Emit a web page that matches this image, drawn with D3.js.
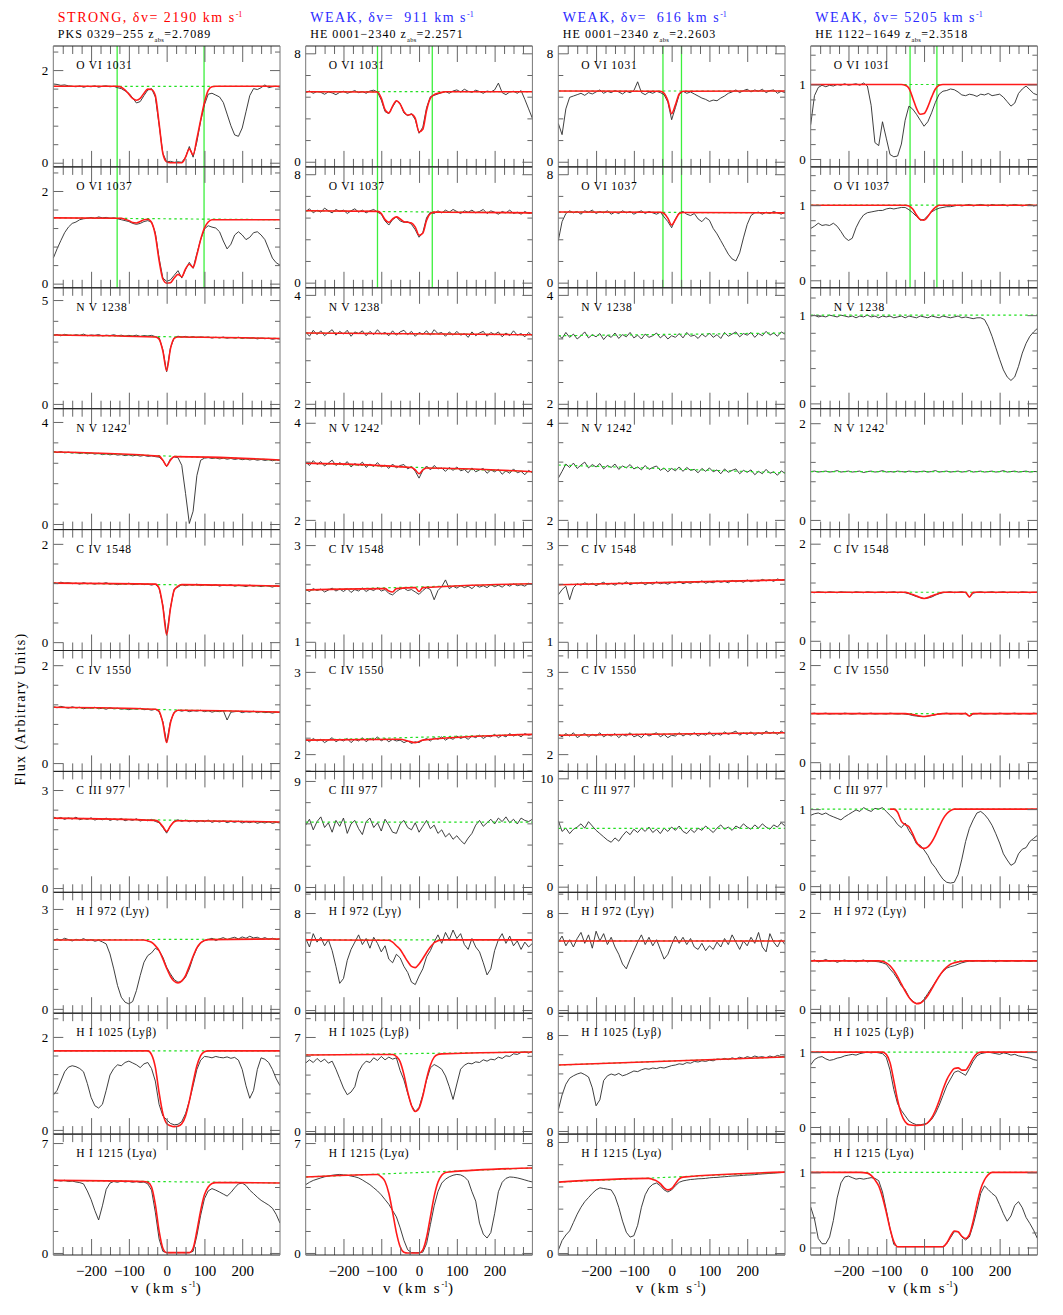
<!DOCTYPE html>
<html><head><meta charset="utf-8">
<script src="https://cdn.jsdelivr.net/npm/d3@7"></script>
<style>
body{margin:0;background:#fff}
svg{display:block}
text{font-family:"Liberation Serif","DejaVu Serif",serif;white-space:pre}
</style>
</head><body>
<svg id="c" width="1063" height="1315"></svg>
<script>
// ---------------- DATA ----------------
const headerTitles = ["STRONG, \u03b4v= 2190 km s", "WEAK, \u03b4v=  911 km s", "WEAK, \u03b4v=  616 km s", "WEAK, \u03b4v= 5205 km s"];
const headerColors = ["#ff0000", "#2b2bff", "#2b2bff", "#2b2bff"];
const sightlines = ["PKS 0329\u2212255 z", "HE 0001\u22122340 z", "HE 0001\u22122340 z", "HE 1122\u22121649 z"];
const zabs = ["=2.7089", "=2.2571", "=2.2603", "=2.3518"];
const ions = ["O VI 1031", "O VI 1037", "N V 1238", "N V 1242", "C IV 1548", "C IV 1550", "C III 977",
  "H I 972 (Ly\u03b3)", "H I 1025 (Ly\u03b2)", "H I 1215 (Ly\u03b1)"];
const velocityLabels = [-200, -100, 0, 100, 200];
const integrationLimits = [[-131, 99], [-110, 35], [-23, 26], [-37, 34]];

// y-axis ranges [min,max] per panel and labelled values [bottom, top]
const yRangeC1 = [[-0.09,2.52],[-0.09,2.52],[-0.23,5.59],[-0.22,4.52],[-0.17,2.29],[-0.17,2.30],[-0.13,3.57],[-0.13,3.50],[-0.09,2.51],[-0.13,7.57]];
const yRangeC2 = [[-0.38,8.54],[-0.38,8.54],[1.91,4.13],[1.80,4.29],[0.82,3.32],[1.79,3.26],[-0.45,9.81],[-0.26,9.71],[-0.23,8.77],[-0.13,7.57]];
const yRangeC3 = [[-0.38,8.54],[-0.38,8.54],[1.91,4.13],[1.80,4.29],[0.82,3.32],[1.79,3.26],[-0.52,10.64],[-0.26,9.71],[-0.26,9.82],[-0.14,8.57]];
const yRangeC4 = [[-0.106,1.517],[-0.10,1.51],[-0.06,1.31],[-0.20,2.30],[-0.20,2.29],[-0.19,2.30],[-0.08,1.49],[-0.09,2.43],[-0.095,1.52],[-0.10,1.51]];
const yLabelsC1 = [[0,2],[0,2],[0,5],[0,4],[0,2],[0,2],[0,3],[0,3],[0,2],[0,7]];
const yLabelsC2 = [[0,8],[0,8],[2,4],[2,4],[1,3],[2,3],[0,9],[0,8],[0,7],[0,7]];
const yLabelsC3 = [[0,8],[0,8],[2,4],[2,4],[1,3],[2,3],[0,10],[0,8],[0,8],[0,8]];
const yLabelsC4 = [[0,1],[0,1],[0,1],[0,2],[0,2],[0,2],[0,1],[0,2],[0,1],[0,1]];

// continuum level [at -300, at +300]
const contC1 = [[1.65,1.65],[1.42,1.38],[3.32,3.15],[2.82,2.51],[1.2,1.14],[1.14,1.04],[2.14,2.02],[2.07,2.1],[1.7,1.7],[4.62,4.46]];
const contC2 = [[5.17,5.17],[5.3,5.15],[3.3,3.27],[3.17,2.99],[2.07,2.2],[2.17,2.24],[5.5,5.5],[5.79,5.79],[5.66,5.88],[4.84,5.41]];
const contC3 = [[5.22,5.22],[5.21,5.15],[3.25,3.3],[3.13,2.97],[2.18,2.28],[2.23,2.26],[5.39,5.39],[5.7,5.7],[5.5,6.17],[5.11,5.83]];
const contC4 = [[1,1],[1,1],[1,1],[1,1],[1,1],[1,1],[1,1],[1,1],[1,1],[1,1]];

// observed flux, sampled every 10 km/s from -300 to +300 (61 values)
const fluxC1 = [
 [1.70,1.69,1.67,1.68,1.66,1.65,1.64,1.66,1.63,1.65, 1.64,1.66,1.63,1.65,1.66,1.64,1.65,1.62,1.60,1.55, 1.50,1.40,1.29,1.32,1.45,1.57,1.60,1.42,0.82,0.20, 0.02, 0.03,0.01,0.02,0.01,0.12,0.35,0.12,0.45,0.90,1.25, 1.48,1.50,1.46,1.42,1.30,1.05,0.80,0.60,0.57,0.75, 1.10,1.45,1.60,1.58,1.62,1.68,1.62,1.64,1.65,1.63],
 [0.55,0.75,0.93,1.10,1.22,1.30,1.33,1.38,1.40,1.41, 1.43,1.41,1.44,1.42,1.43,1.41,1.42,1.40,1.38,1.36, 1.34,1.30,1.28,1.30,1.34,1.36,1.33,1.10,0.55,0.12, 0.05, 0.08,0.18,0.28,0.12,0.30,0.46,0.33,0.65,0.95,1.18, 1.25,1.22,1.20,1.12,0.92,0.75,0.85,1.05,1.12,1.05, 0.95,1.00,1.10,1.12,1.05,0.95,0.75,0.55,0.45,0.40],
 [3.30,3.34,3.28,3.35,3.31,3.29,3.33,3.30,3.36,3.28, 3.32,3.30,3.34,3.27,3.31,3.29,3.33,3.28,3.31,3.26, 3.30,3.27,3.31,3.25,3.29,3.27,3.30,3.24,3.20,2.60, 1.55, 2.70,3.18,3.26,3.22,3.25,3.20,3.24,3.19,3.23,3.20, 3.22,3.17,3.21,3.18,3.22,3.16,3.20,3.17,3.21,3.15, 3.19,3.16,3.18,3.13,3.17,3.14,3.16,3.11,3.15,3.12],
 [2.85,2.80,2.84,2.79,2.82,2.78,2.81,2.76,2.80,2.75, 2.78,2.74,2.77,2.72,2.75,2.71,2.74,2.70,2.72,2.68, 2.71,2.67,2.70,2.66,2.69,2.65,2.67,2.64,2.62,2.50, 2.25, 2.55,2.63,2.60,2.30,1.20,0.02,0.50,1.90,2.50,2.58, 2.60,2.57,2.59,2.55,2.58,2.54,2.57,2.53,2.56,2.52, 2.55,2.51,2.54,2.50,2.53,2.49,2.52,2.48,2.51,2.49],
 [1.21,1.19,1.22,1.20,1.21,1.19,1.20,1.18,1.21,1.19, 1.20,1.18,1.20,1.19,1.21,1.18,1.19,1.17,1.19,1.18, 1.20,1.17,1.18,1.19,1.17,1.18,1.16,1.18,1.10,0.75, 0.14, 0.70,1.08,1.12,1.17,1.15,1.17,1.16,1.18,1.15,1.17, 1.16,1.15,1.17,1.14,1.16,1.15,1.17,1.14,1.16,1.15, 1.13,1.16,1.14,1.15,1.13,1.15,1.14,1.12,1.15,1.13],
 [1.15,1.13,1.16,1.14,1.12,1.15,1.13,1.14,1.11,1.13, 1.12,1.14,1.11,1.12,1.10,1.13,1.11,1.12,1.10,1.11, 1.09,1.11,1.10,1.12,1.09,1.10,1.08,1.10,1.05,0.85, 0.42, 0.85,1.04,1.08,1.06,1.08,1.05,1.07,1.06,1.08,1.05, 1.07,1.04,1.06,1.05,1.07,0.88,1.04,1.05,1.06,1.03, 1.05,1.04,1.06,1.03,1.05,1.03,1.04,1.02,1.04,1.03],
 [2.18,2.12,2.16,2.10,2.15,2.11,2.17,2.09,2.13,2.10, 2.15,2.08,2.12,2.09,2.14,2.07,2.11,2.08,2.13,2.06, 2.10,2.07,2.12,2.05,2.09,2.06,2.10,2.04,2.00,1.85, 1.68, 1.90,2.05,2.09,2.04,2.08,2.03,2.07,2.02,2.06,2.03, 2.08,2.01,2.05,2.02,2.06,2.00,2.04,2.01,2.05,1.99, 2.03,2.00,2.04,1.98,2.02,1.99,2.03,1.98,2.01,1.99],
 [2.05,2.10,2.06,2.12,2.08,2.04,2.09,2.06,2.11,2.05, 2.08,2.03,2.06,2.01,1.95,1.65,1.20,0.70,0.35,0.20, 0.15,0.22,0.55,1.00,1.40,1.60,1.68,1.82,1.75,1.55, 1.25, 1.05,0.88,0.80,0.82,0.95,1.20,1.55,1.82,1.98,2.05, 2.08,2.12,2.05,2.10,2.14,2.08,2.12,2.15,2.10,2.16, 2.12,2.18,2.13,2.15,2.10,2.14,2.09,2.12,2.08,2.10],
 [0.75,0.85,1.05,1.25,1.35,1.38,1.36,1.32,1.25,1.00, 0.70,0.52,0.47,0.55,0.85,1.18,1.32,1.40,1.38,1.45, 1.48,1.44,1.40,1.34,1.42,1.45,1.32,1.05,0.55,0.30, 0.22, 0.14,0.11,0.12,0.18,0.35,0.62,0.95,1.30,1.50,1.58, 1.57,1.55,1.58,1.56,1.55,1.57,1.54,1.56,1.50,1.30, 0.95,0.68,0.85,1.30,1.55,1.52,1.45,1.30,1.10,0.95],
 [4.65,4.62,4.58,4.63,4.55,4.58,4.52,4.48,4.40,3.95, 3.40,2.70,2.10,3.00,4.05,4.45,4.55,4.50,4.58,4.52, 4.56,4.50,4.55,4.49,4.52,4.40,4.00,2.60,0.90,0.10, 0.02, 0.01,0.02,0.01,0.02,0.01,0.03,0.10,1.10,2.40,3.45, 3.95,4.10,4.00,3.88,3.75,3.62,3.85,4.15,4.40,4.45, 4.30,4.00,3.78,3.55,3.35,3.20,3.05,2.85,2.45,1.90]
];
const fluxC2 = [
 [5.10,5.22,5.05,5.18,5.12,4.98,5.15,5.08,4.95,5.12, 5.20,5.05,5.15,5.25,5.10,5.18,5.05,5.22,5.28,5.15, 4.55,3.70,3.55,4.05,4.50,4.30,3.60,3.40,3.55,3.10, 2.10, 2.55,4.00,4.80,4.90,5.00,5.10,5.18,5.05,5.22,5.30, 5.15,5.35,5.20,5.12,5.28,5.18,5.05,5.22,5.15,5.30, 5.80,5.10,4.95,5.15,5.20,5.05,5.25,4.60,3.90,3.20],
 [5.25,5.45,5.15,5.35,5.20,5.50,5.30,5.15,5.40,5.25, 5.35,5.10,5.30,5.45,5.20,5.35,5.15,5.30,5.40,5.20, 5.05,4.55,4.25,4.65,4.85,4.55,4.45,4.50,4.30,3.90, 3.35, 3.70,4.80,5.20,5.10,5.30,5.15,5.35,5.20,5.40,5.25, 5.10,5.30,5.20,5.35,5.15,5.25,5.40,5.10,5.30,5.20, 5.05,5.25,5.15,5.35,5.10,5.20,5.05,5.25,5.10,5.15],
 [3.32,3.24,3.35,3.27,3.34,3.25,3.31,3.36,3.26,3.33, 3.28,3.35,3.24,3.32,3.29,3.34,3.25,3.33,3.27,3.36, 3.28,3.31,3.25,3.34,3.26,3.32,3.35,3.27,3.33,3.24, 3.31, 3.28,3.34,3.26,3.36,3.29,3.31,3.24,3.32,3.26,3.33, 3.26,3.29,3.22,3.32,3.25,3.30,3.33,3.24,3.31,3.27, 3.32,3.23,3.30,3.25,3.34,3.26,3.29,3.23,3.31,3.25],
 [3.19,3.12,3.22,3.14,3.20,3.11,3.17,3.23,3.12,3.18, 3.13,3.20,3.09,3.16,3.12,3.19,3.08,3.15,3.10,3.18, 3.09,3.13,3.06,3.15,3.07,3.12,3.14,3.05,3.10,3.00, 2.86, 3.02,3.11,3.03,3.12,3.05,3.07,3.00,3.08,3.02,3.09, 3.01,3.04,2.97,3.07,2.99,3.03,3.06,2.96,3.03,2.99, 3.04,2.94,3.01,2.96,3.05,2.97,3.00,2.93,3.02,2.97],
 [2.08,2.04,2.10,2.06,2.09,2.03,2.07,2.11,2.05,2.09, 2.04,2.10,2.02,2.08,2.05,2.11,2.04,2.09,2.06,2.12, 2.05,2.08,2.00,1.97,2.04,2.09,2.11,2.06,2.08,2.03, 1.98, 2.06,2.12,2.08,1.87,2.06,2.14,2.28,2.10,2.15,2.11, 2.16,2.12,2.15,2.10,2.17,2.13,2.16,2.12,2.18,2.14, 2.17,2.13,2.19,2.15,2.20,2.16,2.18,2.15,2.21,2.18],
 [2.18,2.15,2.19,2.16,2.18,2.14,2.17,2.20,2.15,2.18, 2.16,2.19,2.14,2.18,2.16,2.20,2.15,2.19,2.17,2.21, 2.16,2.19,2.15,2.18,2.16,2.17,2.14,2.16,2.13,2.15, 2.14, 2.17,2.19,2.16,2.20,2.18,2.21,2.17,2.20,2.18,2.22, 2.19,2.21,2.18,2.22,2.20,2.23,2.19,2.22,2.21,2.24, 2.20,2.23,2.21,2.25,2.22,2.24,2.21,2.25,2.23,2.24],
 [5.25,5.75,4.85,5.55,5.95,5.05,5.45,4.65,5.65,5.15, 5.85,4.55,5.35,5.65,4.95,4.45,5.55,5.85,5.05,5.45, 4.75,5.75,5.25,4.65,4.55,5.35,5.65,5.05,4.85,5.45, 4.65, 5.15,5.65,4.95,5.25,4.55,4.85,4.25,4.55,4.05,4.35, 3.95,3.65,4.15,4.55,5.25,5.65,5.15,5.45,5.75,5.35, 5.85,5.55,5.95,5.45,5.75,5.35,5.85,5.65,5.55,5.75],
 [5.9,5.2,6.3,5.6,6.0,5.3,5.8,4.9,3.6,2.2, 2.6,4.1,5.0,5.6,6.2,5.4,5.9,5.1,6.0,5.5, 4.8,5.3,4.2,3.9,4.6,4.3,3.6,3.1,2.3,2.1, 2.8, 3.4,4.4,4.9,5.6,6.2,5.5,6.4,5.8,6.6,5.9, 6.3,5.4,5.0,5.9,5.2,4.8,3.9,2.9,3.4,4.9, 5.8,6.3,5.5,6.1,5.3,5.7,5.0,5.6,5.2,5.5],
 [5.06,5.30,5.10,5.40,5.15,5.35,5.05,5.20,4.60,3.90, 3.20,2.70,2.90,3.30,4.40,4.90,5.20,5.10,5.45,5.25, 5.55,5.30,5.50,5.35,5.45,4.50,3.80,2.80,1.90,1.45, 1.75, 2.70,3.80,4.70,4.95,4.80,4.60,4.10,3.30,2.35,3.50, 4.60,4.90,5.05,5.00,5.15,5.10,5.30,5.20,5.35,5.30, 5.50,5.40,5.60,5.55,5.75,5.70,5.85,5.90,5.80,5.95],
 [4.35,4.50,4.62,4.70,4.78,4.85,4.90,4.95,4.98,5.00, 4.97,4.95,4.90,4.85,4.78,4.65,4.50,4.35,4.15,3.95, 3.70,3.40,3.10,2.70,2.30,1.60,0.80,0.20,0.03,0.02, 0.02, 0.05,0.60,1.80,3.00,3.90,4.45,4.70,4.85,4.95,5.00, 4.97,4.85,4.60,3.90,3.30,1.90,1.20,0.95,1.30,2.50, 3.90,4.50,4.75,4.84,4.82,4.78,4.72,4.65,4.58,4.52]
];
const fluxC3 = [
 [2.83,2.00,3.90,4.75,4.85,4.95,5.05,4.90,5.10,5.00, 5.15,5.30,5.05,5.20,5.10,5.25,5.15,5.00,5.20,5.10, 5.25,5.90,5.10,4.95,5.15,5.05,5.20,5.10,4.95,4.40, 3.10, 4.00,4.95,5.20,5.05,5.15,5.00,4.85,4.70,4.60,4.45, 4.55,4.50,4.70,4.85,5.05,5.15,5.30,5.10,5.25,5.35, 5.15,5.30,5.20,5.35,5.10,5.25,5.30,5.05,5.20,5.10],
 [3.10,4.50,5.10,5.30,5.15,5.25,5.05,5.30,5.20,5.35, 5.10,5.25,5.15,5.30,5.05,5.20,5.10,5.30,5.15,5.25, 5.05,5.20,5.30,5.10,5.25,5.15,5.05,5.20,4.85,4.50, 4.05, 4.70,5.15,5.25,5.05,4.95,5.10,4.70,4.50,4.80,4.60, 4.00,3.60,3.10,2.60,2.10,1.75,1.60,2.20,3.30,4.30, 4.95,5.15,5.20,5.05,5.20,5.10,5.25,5.15,5.05,5.20],
 [3.27,3.20,3.31,3.22,3.28,3.19,3.25,3.32,3.21,3.27, 3.23,3.29,3.18,3.26,3.22,3.30,3.20,3.27,3.23,3.31, 3.21,3.26,3.19,3.28,3.22,3.25,3.30,3.21,3.27,3.19, 3.25, 3.22,3.29,3.21,3.31,3.24,3.26,3.20,3.28,3.23,3.30, 3.22,3.27,3.20,3.31,3.24,3.28,3.32,3.23,3.29,3.26, 3.31,3.22,3.29,3.25,3.33,3.26,3.30,3.24,3.32,3.28],
 [2.86,3.00,3.15,3.08,3.17,3.06,3.13,3.19,3.07,3.14, 3.09,3.16,3.05,3.12,3.08,3.15,3.04,3.11,3.07,3.14, 3.05,3.09,3.03,3.12,3.04,3.08,3.11,3.02,3.07,2.99, 3.06, 3.01,3.09,3.00,3.08,3.02,3.04,2.97,3.06,3.00,3.07, 2.99,3.03,2.95,3.05,2.98,3.02,3.05,2.95,3.02,2.98, 3.03,2.93,3.00,2.95,3.04,2.96,2.99,2.92,3.01,2.96],
 [1.97,2.08,2.15,1.87,2.12,2.20,2.17,2.22,2.18,2.21, 2.16,2.20,2.23,2.18,2.21,2.17,2.22,2.19,2.24,2.18, 2.21,2.20,2.23,2.18,2.22,2.19,2.24,2.20,2.22,2.19, 2.23, 2.21,2.25,2.20,2.23,2.21,2.24,2.22,2.26,2.21,2.24, 2.22,2.26,2.23,2.25,2.22,2.27,2.24,2.26,2.23,2.28, 2.24,2.27,2.25,2.29,2.26,2.28,2.25,2.30,2.27,2.28],
 [2.24,2.21,2.25,2.22,2.26,2.20,2.23,2.25,2.21,2.24, 2.22,2.26,2.21,2.24,2.22,2.25,2.20,2.24,2.22,2.26, 2.21,2.23,2.20,2.25,2.22,2.24,2.26,2.21,2.24,2.20, 2.23, 2.22,2.26,2.22,2.25,2.23,2.26,2.22,2.25,2.23,2.27, 2.22,2.25,2.23,2.27,2.24,2.26,2.28,2.23,2.26,2.24, 2.27,2.23,2.26,2.24,2.28,2.25,2.27,2.24,2.28,2.25],
 [6.1,5.1,5.4,4.9,5.3,5.5,5.8,5.4,6.0,5.6, 5.2,4.9,4.6,4.3,4.1,4.5,4.2,4.7,5.1,4.8, 5.3,5.0,5.4,5.1,5.5,5.0,5.3,4.9,5.4,5.1, 5.5, 5.2,5.6,5.1,4.9,5.3,5.0,5.4,5.2,5.6,5.3, 5.0,5.4,5.7,5.3,5.5,5.2,5.6,5.4,5.8,5.5, 5.3,5.7,5.4,5.8,5.5,5.3,5.7,5.5,5.9,5.6],
 [5.6,6.1,5.3,5.8,5.2,5.9,6.4,5.5,6.2,5.1, 6.5,5.7,6.3,5.4,6.0,5.2,4.6,3.8,3.4,4.2, 4.9,5.6,6.2,5.4,6.0,5.3,5.8,5.0,4.2,4.6, 5.4, 6.1,5.5,6.0,5.4,5.9,5.2,5.0,5.5,4.9,5.3, 5.0,5.6,5.2,5.9,5.4,6.2,5.6,5.0,5.7,5.3, 6.0,5.5,6.4,5.2,4.8,6.3,5.6,5.2,5.8,5.4],
 [1.75,3.00,3.90,4.40,4.60,4.75,4.85,4.70,4.50,3.60, 2.10,2.60,4.20,4.60,4.75,4.65,4.80,4.60,4.70,4.85, 5.00,4.95,5.10,5.20,5.15,5.25,5.20,5.30,5.25,5.35, 5.45, 5.50,5.60,5.55,5.70,5.65,5.80,5.75,5.85,5.80,5.90, 5.85,6.00,5.95,6.05,5.95,6.10,6.00,6.15,6.05,6.20, 6.10,6.25,6.15,6.20,6.10,6.25,6.15,6.30,6.20,6.25],
 [0.20,0.90,1.30,1.60,2.20,2.80,3.30,3.70,4.00,4.30, 4.55,4.70,4.65,4.60,4.55,4.10,3.30,2.30,1.50,1.15, 1.25,2.00,3.30,4.20,4.70,4.95,5.05,4.85,4.55,4.40, 4.55, 4.85,5.10,5.20,5.25,5.30,5.32,5.35,5.36,5.38,5.42, 5.44,5.45,5.48,5.50,5.52,5.55,5.56,5.58,5.60,5.62, 5.63,5.65,5.68,5.70,5.72,5.74,5.76,5.78,5.80,5.82]
];
const fluxC4 = [
 [0.46,0.85,0.96,0.99,0.97,0.99,0.98,1.00,0.99,1.01, 0.99,1.00,1.01,0.99,1.02,0.98,0.72,0.22,0.18,0.50, 0.28,0.06,0.03,0.04,0.20,0.52,0.71,0.67,0.60,0.52, 0.44, 0.50,0.62,0.76,0.87,0.91,0.92,0.94,0.93,0.90,0.86, 0.85,0.87,0.86,0.84,0.87,0.86,0.88,0.85,0.86,0.87, 0.83,0.77,0.71,0.75,0.88,0.94,0.98,0.93,0.88,0.86],
 [0.69,0.72,0.76,0.73,0.74,0.73,0.76,0.72,0.65,0.57, 0.53,0.56,0.70,0.80,0.87,0.90,0.91,0.92,0.93,0.93, 0.95,0.96,0.95,0.96,0.97,0.97,0.94,0.90,0.85,0.80, 0.81, 0.86,0.91,0.94,0.96,0.97,0.98,0.98,0.99,1.00,0.99, 1.00,1.01,0.99,1.00,1.01,1.00,0.99,1.01,1.00,1.00, 1.01,0.99,1.00,1.01,1.00,0.99,1.00,1.01,0.99,1.00],
 [0.99,1.00,0.98,0.99,0.98,1.00,0.99,0.98,1.00,0.99, 0.98,0.99,0.97,0.99,0.98,1.00,0.98,0.99,0.97,0.99, 0.98,0.99,0.97,0.98,0.99,0.97,0.99,0.98,0.97,0.99, 0.98, 0.97,0.99,0.98,0.97,0.99,0.98,0.97,0.98,0.99,0.97, 0.98,0.97,0.96,0.97,0.97,0.95,0.87,0.76,0.63,0.50, 0.38,0.30,0.26,0.30,0.42,0.57,0.68,0.76,0.81,0.85],
 [1.00,1.01,0.99,1.00,1.01,0.99,1.00,1.02,0.99,1.00, 1.01,0.99,1.00,1.01,0.98,1.00,1.01,0.99,1.00,1.02, 0.99,1.00,0.99,1.01,1.00,0.99,1.01,1.00,0.99,1.00, 1.01, 0.99,1.00,1.02,0.99,1.00,1.01,0.99,1.00,1.01,0.99, 1.00,1.02,0.99,1.00,1.01,0.99,1.00,1.01,0.99,1.00, 1.02,0.99,1.00,1.01,0.99,1.00,1.01,0.99,1.00,1.00],
 [1.00,0.99,1.01,1.00,0.99,1.01,1.00,0.99,1.01,1.00, 1.00,0.99,1.01,1.00,0.99,1.01,1.00,0.99,1.00,1.01, 0.99,1.00,1.01,0.99,1.00,0.99,0.97,0.94,0.91,0.89, 0.87, 0.88,0.90,0.94,0.97,0.99,1.00,1.01,0.99,1.00,1.01, 0.99,0.90,0.98,1.00,1.01,0.99,1.00,1.01,0.99,1.00, 1.01,0.99,1.00,1.00,0.99,1.01,1.00,0.99,1.00,1.00],
 [1.00,1.01,0.99,1.00,1.01,0.99,1.00,1.00,0.99,1.01, 1.00,0.99,1.00,1.01,0.99,1.00,1.01,0.99,1.00,1.00, 0.99,1.01,1.00,0.99,1.00,0.99,0.98,0.96,0.95,0.94, 0.94, 0.95,0.96,0.98,0.99,1.00,1.01,0.99,1.00,1.00,0.99, 1.01,0.95,0.99,1.00,1.01,0.99,1.00,1.00,0.99,1.01, 1.00,0.99,1.00,1.01,0.99,1.00,1.00,0.99,1.01,1.00],
 [0.92,0.94,0.95,0.93,0.95,0.92,0.90,0.88,0.86,0.90, 0.93,0.96,0.99,0.97,1.02,0.99,0.97,1.01,1.00,1.02, 0.97,0.92,0.87,0.80,0.76,0.82,0.72,0.65,0.55,0.53, 0.47, 0.40,0.30,0.24,0.16,0.09,0.05,0.04,0.05,0.15,0.35, 0.58,0.75,0.86,0.95,0.97,0.93,0.87,0.79,0.68,0.56, 0.42,0.34,0.27,0.30,0.42,0.48,0.50,0.58,0.62,0.66],
 [0.99,1.02,0.98,1.00,1.03,0.99,1.01,0.97,1.00,1.02, 0.99,1.01,0.98,1.00,1.02,0.98,1.00,0.99,0.98,0.96, 0.93,0.83,0.74,0.62,0.48,0.40,0.25,0.16,0.11,0.12, 0.20, 0.32,0.44,0.56,0.68,0.78,0.85,0.88,0.90,0.93,0.96, 0.98,1.00,0.99,1.01,1.00,0.99,1.01,1.00,0.98,1.01, 1.00,0.99,1.01,1.00,0.99,1.01,1.00,0.99,1.00,0.99],
 [0.83,0.90,0.93,0.94,0.91,0.89,0.90,0.92,0.93,0.95, 0.96,0.97,0.96,0.98,0.99,1.00,0.99,1.00,0.99,0.98, 0.93,0.76,0.50,0.31,0.22,0.15,0.08,0.05,0.03,0.03, 0.04, 0.05,0.10,0.18,0.29,0.42,0.55,0.64,0.73,0.75,0.72, 0.69,0.78,0.88,0.95,0.98,0.99,1.00,0.99,0.98,0.97, 0.99,0.98,0.96,0.97,0.95,0.94,0.93,0.92,0.90,0.89],
 [0.54,0.38,0.12,0.05,0.05,0.14,0.36,0.66,0.86,0.94, 0.95,0.93,0.91,0.92,0.91,0.92,0.93,0.92,0.89,0.74, 0.50,0.25,0.04,0.01,0.01,0.01,0.01,0.01,0.01,0.01, 0.01, 0.01,0.01,0.01,0.01,0.01,0.05,0.13,0.21,0.21,0.14, 0.10,0.14,0.30,0.50,0.72,0.82,0.77,0.72,0.68,0.57, 0.45,0.35,0.42,0.56,0.61,0.53,0.40,0.32,0.23,0.12]
];

// fitted models: [velocity, flux] knots (null = no model drawn)
const modelC1 = [
 [[-300,1.65],[-130,1.65],[-120,1.63],[-110,1.57],[-100,1.48],[-90,1.39],[-80,1.35],[-70,1.39],[-60,1.5],[-50,1.59],[-40,1.58],[-30,1.45],[-20,0.85],[-10,0.2],[0,0.02],[10,0],[40,0],[50,0.12],[60,0.3],[70,0.17],[80,0.52],[90,0.92],[100,1.3],[110,1.56],[120,1.64],[130,1.65],[300,1.65]],
 [[-300,1.42],[-120,1.41],[-110,1.39],[-100,1.36],[-90,1.32],[-80,1.31],[-70,1.34],[-60,1.38],[-50,1.39],[-40,1.32],[-30,1.05],[-20,0.5],[-10,0.1],[0,0.01],[10,0.02],[20,0.12],[30,0.2],[40,0.15],[50,0.32],[60,0.42],[70,0.35],[80,0.62],[90,0.95],[100,1.2],[110,1.33],[120,1.38],[300,1.38]],
 [[-300,3.32],[-30,3.22],[-20,3.12],[-10,2.55],[0,1.6],[10,2.65],[20,3.15],[30,3.22],[300,3.15]],
 [[-300,2.82],[-20,2.66],[-10,2.5],[0,2.28],[10,2.5],[20,2.64],[300,2.51]],
 [[-300,1.2],[-30,1.18],[-20,1.1],[-10,0.72],[0,0.15],[10,0.68],[20,1.06],[30,1.14],[40,1.17],[300,1.14]],
 [[-300,1.14],[-30,1.1],[-20,1.06],[-10,0.82],[0,0.42],[10,0.82],[20,1.03],[30,1.08],[300,1.04]],
 [[-300,2.14],[-30,2.07],[-20,2.02],[-10,1.88],[0,1.73],[10,1.9],[20,2.03],[30,2.06],[300,2.02]],
 [[-300,2.07],[-60,2.07],[-50,2.04],[-40,2.0],[-30,1.9],[-20,1.75],[-10,1.5],[0,1.22],[10,0.98],[20,0.83],[30,0.78],[40,0.84],[50,1.0],[60,1.28],[70,1.58],[80,1.83],[90,1.98],[100,2.05],[110,2.08],[300,2.1]],
 [[-300,1.7],[-50,1.7],[-40,1.62],[-30,1.35],[-20,0.8],[-10,0.35],[0,0.14],[10,0.09],[20,0.07],[30,0.08],[40,0.13],[50,0.3],[60,0.62],[70,1.02],[80,1.38],[90,1.6],[100,1.68],[110,1.7],[300,1.7]],
 [[-300,4.62],[-60,4.55],[-50,4.5],[-40,4.2],[-30,3.1],[-20,1.4],[-10,0.3],[0,0.02],[60,0.02],[70,0.3],[80,1.4],[90,2.7],[100,3.7],[110,4.2],[120,4.43],[130,4.48],[300,4.46]]
];
const modelC2 = [
 [[-300,5.17],[-110,5.15],[-100,4.7],[-90,3.85],[-80,3.6],[-70,4.1],[-60,4.5],[-50,4.25],[-40,3.7],[-30,3.45],[-20,3.5],[-10,3.2],[0,2.2],[10,2.4],[20,3.8],[30,4.7],[40,4.95],[50,5.05],[60,5.12],[70,5.17],[300,5.17]],
 [[-300,5.3],[-110,5.26],[-100,5.1],[-90,4.65],[-80,4.45],[-70,4.7],[-60,4.85],[-50,4.7],[-40,4.5],[-30,4.45],[-20,4.4],[-10,4.1],[0,3.5],[10,3.65],[20,4.6],[30,5.1],[40,5.2],[300,5.15]],
 [[-300,3.3],[300,3.27]],
 [[-300,3.17],[-20,3.08],[-10,3.03],[0,2.95],[10,3.03],[20,3.07],[300,2.99]],
 [[-300,2.07],[-90,2.1],[-80,2.05],[-70,2.03],[-60,2.1],[-10,2.12],[0,2.04],[10,2.12],[300,2.2]],
 [[-300,2.17],[-50,2.18],[-30,2.16],[-10,2.14],[10,2.17],[300,2.24]],
 null,
 [[-300,5.79],[-80,5.75],[-70,5.6],[-60,5.3],[-50,5.0],[-40,4.5],[-30,4.0],[-20,3.6],[-10,3.5],[0,3.8],[10,4.25],[20,4.75],[30,5.2],[40,5.55],[50,5.72],[60,5.79],[300,5.79]],
 [[-300,5.66],[-70,5.7],[-60,5.55],[-50,5.15],[-40,4.2],[-30,2.9],[-20,1.9],[-10,1.45],[0,1.7],[10,2.6],[20,3.9],[30,4.9],[40,5.5],[50,5.7],[60,5.74],[300,5.88]],
 [[-300,4.84],[-110,5.0],[-100,4.85],[-90,4.55],[-80,3.8],[-70,2.6],[-60,1.3],[-50,0.4],[-40,0.05],[-30,0],[0,0],[10,0.2],[20,1.0],[30,2.3],[40,3.6],[50,4.5],[60,4.95],[70,5.12],[80,5.16],[300,5.41]]
];
const modelC3 = [
 [[-300,5.22],[-30,5.2],[-20,5.05],[-10,4.5],[0,3.55],[10,4.2],[20,5.0],[30,5.2],[300,5.22]],
 [[-300,5.21],[-30,5.19],[-20,5.1],[-10,4.75],[0,4.25],[10,4.65],[20,5.1],[30,5.18],[300,5.15]],
 null,
 null,
 [[-300,2.18],[300,2.28]],
 [[-300,2.23],[300,2.26]],
 null,
 [[-300,5.7],[300,5.7]],
 [[-300,5.5],[300,6.17]],
 [[-300,5.11],[-60,5.38],[-50,5.3],[-40,5.2],[-30,5.0],[-20,4.7],[-10,4.55],[0,4.65],[10,5.0],[20,5.35],[30,5.47],[300,5.83]]
];
const modelC4 = [
 [[-300,1],[-60,1],[-50,0.99],[-40,0.95],[-30,0.82],[-20,0.68],[-10,0.6],[0,0.61],[10,0.7],[20,0.83],[30,0.94],[40,0.99],[50,1],[300,1]],
 [[-300,1],[-50,1],[-40,0.99],[-30,0.95],[-20,0.87],[-10,0.81],[0,0.8],[10,0.85],[20,0.92],[30,0.97],[40,1],[300,1]],
 null,
 null,
 [[-300,1],[-50,1],[-40,0.98],[-20,0.92],[0,0.87],[20,0.92],[40,0.98],[50,1],[110,1],[120,0.9],[130,1],[300,1]],
 [[-300,1],[-50,1],[-30,0.98],[-10,0.95],[0,0.94],[10,0.95],[30,0.98],[50,1],[110,1],[120,0.95],[130,1],[300,1]],
 [[-90,1],[-80,1],[-70,0.96],[-60,0.84],[-50,0.8],[-40,0.77],[-30,0.68],[-20,0.57],[-10,0.51],[0,0.49],[10,0.51],[20,0.57],[30,0.66],[40,0.77],[50,0.87],[60,0.94],[70,0.98],[80,1],[300,1]],
 [[-300,1],[-120,1],[-110,0.99],[-100,0.96],[-90,0.9],[-80,0.8],[-70,0.67],[-60,0.52],[-50,0.37],[-40,0.24],[-30,0.15],[-20,0.11],[-10,0.12],[0,0.18],[10,0.28],[20,0.41],[30,0.55],[40,0.68],[50,0.79],[60,0.87],[70,0.93],[80,0.96],[90,0.98],[100,0.99],[110,1],[300,1]],
 [[-300,1],[-110,1],[-100,0.97],[-90,0.86],[-80,0.62],[-70,0.36],[-60,0.17],[-50,0.07],[-40,0.03],[-20,0.02],[0,0.03],[10,0.06],[20,0.12],[30,0.22],[40,0.35],[50,0.5],[60,0.63],[70,0.72],[80,0.78],[90,0.79],[100,0.76],[110,0.76],[120,0.83],[130,0.92],[140,0.98],[150,1],[300,1]],
 [[-300,1],[-170,1],[-150,0.99],[-140,0.96],[-130,0.9],[-120,0.82],[-110,0.67],[-100,0.47],[-90,0.25],[-80,0.08],[-70,0.01],[50,0.01],[60,0.06],[70,0.15],[80,0.22],[90,0.21],[100,0.15],[110,0.12],[120,0.17],[130,0.35],[140,0.58],[150,0.78],[160,0.9],[170,0.97],[180,1],[300,1]]
];

// ---------------- LAYOUT ----------------
const panelLeft = [53.3, 305.7, 558.3, 810.7];
const panelWidth = 226.7;
const rowTop0 = 46, rowHeight = 120.9;
const vGrid = d3.range(-300, 301, 10);

const columns = [
  {flux: fluxC1, model: modelC1, yRange: yRangeC1, yLab: yLabelsC1, cont: contC1},
  {flux: fluxC2, model: modelC2, yRange: yRangeC2, yLab: yLabelsC2, cont: contC2},
  {flux: fluxC3, model: modelC3, yRange: yRangeC3, yLab: yLabelsC3, cont: contC3},
  {flux: fluxC4, model: modelC4, yRange: yRangeC4, yLab: yLabelsC4, cont: contC4}
];

const svg = d3.select("#c");
const defs = svg.append("defs");
const tickColor = "#666";
const serif = '"Liberation Serif","DejaVu Serif",serif';

function styleAxis(g) {
  g.select(".domain").remove();
  g.selectAll(".tick line").attr("stroke", tickColor).attr("stroke-width", 1);
}

columns.forEach((col, c) => {
  const x0 = panelLeft[c];
  const x = d3.scaleLinear().domain([-300, 300]).range([x0, x0 + panelWidth]);

  // headers
  const h1 = svg.append("text").attr("x", x0 + 4.5).attr("y", 21.5)
    .attr("font-size", 14).attr("letter-spacing", 1.5).attr("fill", headerColors[c]);
  h1.append("tspan").text(headerTitles[c]);
  h1.append("tspan").attr("dy", -5).attr("font-size", 8).attr("letter-spacing", 0).text("-1");
  const h2 = svg.append("text").attr("x", x0 + 4.5).attr("y", 37.5)
    .attr("font-size", 12).attr("letter-spacing", 1.05).attr("fill", "#000");
  h2.append("tspan").text(sightlines[c]);
  h2.append("tspan").attr("dy", 4).attr("font-size", 6.5).attr("letter-spacing", 0.3).text("abs");
  h2.append("tspan").attr("dy", -4).text(zabs[c]);

  for (let r = 0; r < 10; r++) {
    const top = rowTop0 + r * rowHeight, bot = top + rowHeight;
    const y = d3.scaleLinear().domain(col.yRange[r]).range([bot, top]);
    const g = svg.append("g");
    const clipId = `clip-${c}-${r}`;
    defs.append("clipPath").attr("id", clipId).append("rect")
      .attr("x", x0).attr("y", top).attr("width", panelWidth).attr("height", rowHeight);
    const pg = g.append("g").attr("clip-path", `url(#${clipId})`);

    // integration limits
    if (r < 2) {
      integrationLimits[c].forEach(v => {
        pg.append("line").attr("x1", x(v)).attr("x2", x(v)).attr("y1", top).attr("y2", bot)
          .attr("stroke", "#3cf03c").attr("stroke-width", 1.3);
      });
    }
    // observed spectrum
    const fluxLine = d3.line().x((d, i) => x(vGrid[i])).y(d => y(d));
    pg.append("path").attr("d", fluxLine(col.flux[r])).attr("fill", "none")
      .attr("stroke", "#2a2a2a").attr("stroke-width", 0.9).attr("stroke-linejoin", "round");
    // continuum
    pg.append("line").attr("x1", x(-300)).attr("x2", x(300))
      .attr("y1", y(col.cont[r][0])).attr("y2", y(col.cont[r][1]))
      .attr("stroke", "#22e022").attr("stroke-width", 1.2).attr("stroke-dasharray", "2.5,3");
    // model
    if (col.model[r]) {
      const mLine = d3.line().x(d => x(d[0])).y(d => y(d[1])).curve(d3.curveMonotoneX);
      pg.append("path").attr("d", mLine(col.model[r])).attr("fill", "none")
        .attr("stroke", "#ff1a1a").attr("stroke-width", 1.6);
    }

    // x ticks (top & bottom, inward)
    const minorV = d3.range(-275, 300, 25).filter(v => v % 100 !== 0);
    const majorV = [-200, -100, 0, 100, 200];
    g.append("g").attr("transform", `translate(0,${bot})`)
      .call(d3.axisBottom(x).tickValues(minorV).tickSize(-8).tickFormat("")).call(styleAxis);
    g.append("g").attr("transform", `translate(0,${bot})`)
      .call(d3.axisBottom(x).tickValues(majorV).tickSize(-16).tickFormat("")).call(styleAxis);
    g.append("g").attr("transform", `translate(0,${top})`)
      .call(d3.axisTop(x).tickValues(minorV).tickSize(-8).tickFormat("")).call(styleAxis);
    g.append("g").attr("transform", `translate(0,${top})`)
      .call(d3.axisTop(x).tickValues(majorV).tickSize(-16).tickFormat("")).call(styleAxis);

    // y ticks
    const [lb, lt] = col.yLab[r];
    const step = (lt - lb) / 5;
    const [lo, hi] = col.yRange[r];
    const yt = d3.range(Math.ceil((lo - lb) / step - 1e-6), Math.floor((hi - lb) / step + 1e-6) + 1).map(k => lb + k * step);
    const yMinor = yt.filter(v => Math.abs(((v - lb) / (lt - lb)) - Math.round((v - lb) / (lt - lb))) > 1e-6);
    const yMajor = yt.filter(v => !yMinor.includes(v));
    [[d3.axisLeft, x0], [d3.axisRight, x0 + panelWidth]].forEach(([ax, px]) => {
      g.append("g").attr("transform", `translate(${px},0)`)
        .call(ax(y).tickValues(yMinor).tickSize(-5).tickFormat("")).call(styleAxis);
      g.append("g").attr("transform", `translate(${px},0)`)
        .call(ax(y).tickValues(yMajor).tickSize(-10).tickFormat("")).call(styleAxis);
    });
    // y labels
    const yl = g.append("g").attr("transform", `translate(${x0},0)`)
      .call(d3.axisLeft(y).tickValues([lb, lt]).tickSize(0).tickPadding(5).tickFormat(d3.format("d")));
    yl.select(".domain").remove();
    yl.selectAll("text").attr("font-family", serif).attr("font-size", 13).attr("fill", "#000");

    // frame
    g.append("line").attr("x1", x0).attr("x2", x0 + panelWidth).attr("y1", top).attr("y2", top).attr("stroke", "#222");
    g.append("line").attr("x1", x0).attr("x2", x0 + panelWidth).attr("y1", bot).attr("y2", bot).attr("stroke", "#222");
    g.append("line").attr("x1", x0).attr("x2", x0).attr("y1", top).attr("y2", bot).attr("stroke", "#777");
    g.append("line").attr("x1", x0 + panelWidth).attr("x2", x0 + panelWidth).attr("y1", top).attr("y2", bot).attr("stroke", "#777");

    // ion label
    g.append("text").attr("x", x0 + 23).attr("y", top + 23).attr("font-size", 11.5)
      .attr("letter-spacing", 0.8).attr("fill", "#000").text(ions[r]);

    // bottom velocity labels
    if (r === 9) {
      const xl = g.append("g").attr("transform", `translate(0,${bot})`)
        .call(d3.axisBottom(x).tickValues(velocityLabels).tickSize(0).tickPadding(10)
          .tickFormat(d => d < 0 ? "\u2212" + Math.abs(d) : String(d)));
      xl.select(".domain").remove();
      xl.selectAll("text").attr("font-family", serif).attr("font-size", 15).attr("fill", "#000");
      const xt = svg.append("text").attr("x", x(0)).attr("y", 1293).attr("text-anchor", "middle")
        .attr("font-size", 15).attr("letter-spacing", 1.9).attr("fill", "#000");
      xt.append("tspan").text("v (km s");
      xt.append("tspan").attr("dy", -6).attr("font-size", 8).attr("letter-spacing", 0).text("-1");
      xt.append("tspan").attr("dy", 6).text(")");
    }
  }
});

svg.append("text").attr("transform", "translate(25,709) rotate(-90)").attr("text-anchor", "middle")
  .attr("font-size", 14).attr("letter-spacing", 1.3).attr("fill", "#000").text("Flux (Arbitrary Units)");
</script>
</body></html>
